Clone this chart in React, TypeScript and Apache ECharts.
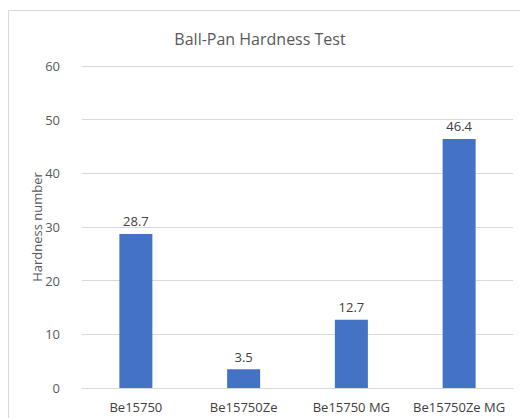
import React, { useEffect, useRef } from "react";
import * as echarts from "echarts";

const categories = ["Be15750", "Be15750Ze", "Be15750 MG", "Be15750Ze MG"];
const values = [28.7, 3.5, 12.7, 46.4];
const yTicks = { min: 0, max: 60, interval: 10 };

export default function App() {
  const ref = useRef<HTMLDivElement>(null);
  useEffect(() => {
    if (!ref.current) return;
    const chart = echarts.init(ref.current, null, { renderer: "svg" });
    const font = "'Open Sans', 'Noto Sans', sans-serif";
    chart.setOption({
      animation: false,
      backgroundColor: "#ffffff",
      textStyle: { fontFamily: font },
      title: {
        text: "Ball-Pan Hardness Test",
        left: "center",
        top: 26,
        textStyle: { fontSize: 16, fontWeight: "normal", color: "#595959", fontFamily: font },
      },
      graphic: [
        {
          type: "rect",
          shape: { x: 8.5, y: 10.5, width: 600, height: 600 },
          style: { fill: "none", stroke: "#d9d9d9", lineWidth: 1 },
          silent: true,
        },
        {
          type: "text",
          x: 37,
          y: 227,
          rotation: Math.PI / 2,
          style: {
            text: "Hardness number",
            fill: "#595959",
            align: "center",
            verticalAlign: "middle",
            font: "13px 'Open Sans', 'Noto Sans', sans-serif",
          },
        },
      ],
      grid: { left: 82, right: 7, top: 66, bottom: 30, containLabel: false },
      xAxis: {
        type: "category",
        data: categories,
        axisLine: { show: true, lineStyle: { color: "#d9d9d9" } },
        axisTick: { show: false },
        axisLabel: { color: "#404040", fontSize: 13, margin: 12, interval: 0, fontFamily: font },
      },
      yAxis: {
        type: "value",
        min: yTicks.min,
        max: yTicks.max,
        interval: yTicks.interval,
        axisLine: { show: false },
        axisTick: { show: false },
        axisLabel: { color: "#595959", fontSize: 13, margin: 22, fontFamily: font },
        splitLine: { lineStyle: { color: "#d9d9d9" } },
      },
      series: [
        {
          type: "bar",
          data: values,
          barWidth: 33,
          itemStyle: { color: "#4472c4" },
          label: {
            show: true,
            position: "top",
            distance: 6,
            color: "#404040",
            fontSize: 13,
            fontFamily: font,
          },
        },
      ],
    });
    return () => chart.dispose();
  }, []);
  return (
    <div
      ref={ref}
      style={{ position: "fixed", left: 0, top: 0, width: 520, height: 418 }}
    />
  );
}
